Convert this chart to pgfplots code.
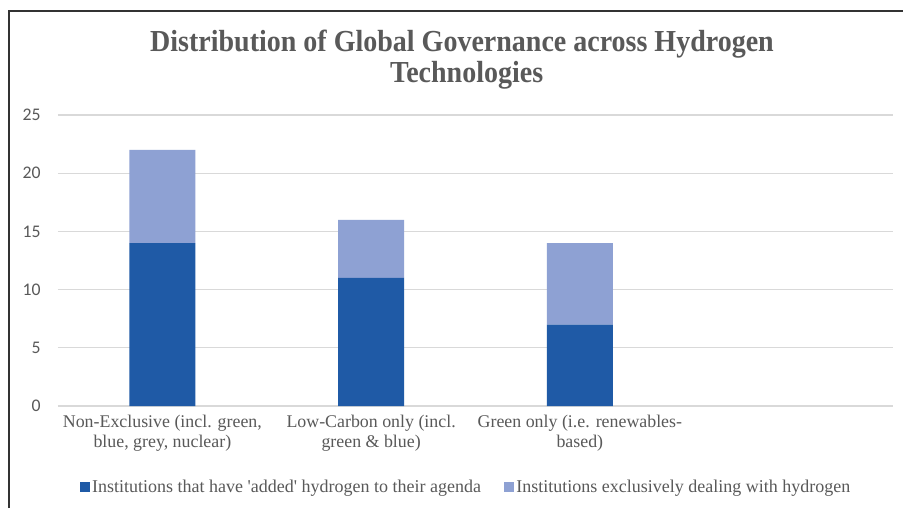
\documentclass[border=0pt]{standalone}
\usepackage{pgfplots}
\pgfplotsset{compat=1.18}
\usepackage{fontspec}
\setmainfont{Liberation Serif}
\newfontfamily\calibri{Carlito}
\definecolor{dblue}{HTML}{1F5AA6}
\definecolor{lblue}{HTML}{8EA1D3}
\definecolor{txtgrey}{HTML}{595959}
\definecolor{gridgrey}{HTML}{D9D9D9}
\begin{document}
\begin{tikzpicture}
\useasboundingbox (0,0) rectangle (677.25pt,381pt);
\fill[white] (0,0) rectangle (677.25pt,381pt);
\draw[line width=1.5pt,black!80] (6.75pt,0) -- (6.75pt,372.75pt) -- (677.25pt,372.75pt);
\node[anchor=base,font=\fontsize{21}{22}\selectfont\bfseries,text=txtgrey,inner sep=0pt] at (346.5pt,342pt) {\scalebox{1}[1.09]{Distribution of Global Governance across Hydrogen}};
\node[anchor=base,font=\fontsize{21}{22}\selectfont\bfseries,text=txtgrey,inner sep=0pt] at (350pt,318.75pt) {\scalebox{1}[1.09]{Technologies}};
\begin{axis}[
  at={(43.5pt,76.5pt)}, anchor=south west,
  scale only axis, width=626.25pt, height=218.25pt,
  ybar stacked, bar width=49.5pt,
  xmin=-0.5, xmax=3.5, ymin=0, ymax=25,
  xtick={0,1,2}, xticklabels={{Non-Exclusive (incl. green,\\blue, grey, nuclear)},{Low-Carbon only (incl.\\green \& blue)},{Green only (i.e. renewables-\\based)}},
  xticklabel style={align=center, text=txtgrey, font=\fontsize{13.4}{15}\selectfont, yshift=-3pt},
  ytick={0,5,10,15,20,25},
  yticklabel style={text=txtgrey, font=\calibri\fontsize{13.3}{15}\selectfont, xshift=-9.5pt},
  /pgf/number format/assume math mode=true,
  major tick length=0pt,
  ymajorgrids, grid style={gridgrey, line width=1pt},
  axis line style={draw=none},
  legend columns=2,
  legend style={at={(0.489,-0.278)}, anchor=center, draw=none, fill=none,
    font=\fontsize{13.5}{15}\selectfont, text=txtgrey,
    /tikz/every even column/.append style={column sep=15pt}},
  legend image code/.code={\fill[#1,draw=none] (0pt,-3.75pt) rectangle (7.5pt,3.75pt);},
]
\addplot[fill=dblue, draw=none] coordinates {(0,14) (1,11) (2,7)};
\addplot[fill=lblue, draw=none] coordinates {(0,8) (1,5) (2,7)};
\legend{Institutions that have \textquotesingle added\textquotesingle{} hydrogen to their agenda, Institutions exclusively dealing with hydrogen}
\end{axis}
\end{tikzpicture}
\end{document}
